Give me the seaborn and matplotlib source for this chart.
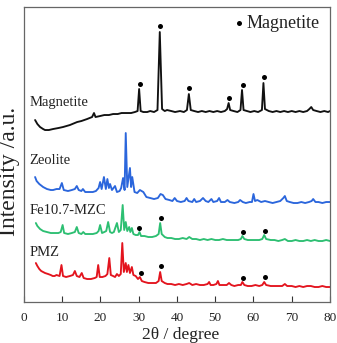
import matplotlib
matplotlib.use('Agg')
import matplotlib.pyplot as plt
import seaborn as sns

# XRD patterns (2theta in degree, intensity in a.u., offset stacked)
mag_x = [2.9, 3.5, 4.2, 5.0, 5.5, 6.5, 7.6, 9.0, 10.2, 12.0, 13.9, 15.0, 16.5, 17.8, 18.3, 18.7,
         19.9, 21.0, 22.2, 23.3, 24.5, 25.5, 26.9, 28.0, 29.0, 29.7, 30.1, 30.5, 31.2, 32.2, 33.0,
         34.0, 34.9, 35.5, 36.1, 36.8, 37.4, 38.5, 39.5, 40.8, 41.8, 42.6, 43.1, 43.6, 44.5, 45.5,
         46.5, 47.5, 48.5, 49.5, 50.5, 51.5, 52.5, 53.1, 53.5, 53.9, 54.8, 55.8, 56.6, 57.0, 57.4,
         58.3, 59.2, 60.2, 61.2, 62.2, 62.6, 63.0, 64.0, 65.0, 66.0, 67.0, 68.0, 69.0, 70.0, 71.0,
         72.0, 73.0, 74.0, 74.6, 75.1, 75.6, 76.5, 77.5, 78.5, 79.5, 80.0]
mag_y = [182, 178, 175, 173, 172, 172, 173, 174, 175, 177, 180, 181, 183, 185, 189, 185,
         186, 187, 187, 188, 188, 189, 189, 189, 190, 191, 213, 191, 190, 190, 191,
         190, 192, 270, 193, 191, 192, 191, 190, 191, 190, 192, 208, 192, 191, 190,
         191, 190, 191, 190, 191, 190, 191, 193, 199, 192, 191, 190, 192, 212, 192,
         191, 190, 191, 190, 192, 219, 193, 191, 190, 191, 190, 191, 190, 191, 190,
         191, 190, 191, 193, 195, 192, 191, 190, 191, 190, 191]

zeo_x = [2.9, 3.3, 4.0, 5.0, 6.0, 7.0, 7.6, 8.5, 9.3, 9.9, 10.4, 11.5, 12.5, 13.3, 13.8, 14.3,
         15.0, 15.4, 16.0, 17.0, 18.0, 18.8, 19.5, 19.9, 20.3, 20.9, 21.4, 21.8, 22.2, 22.5, 23.0,
         23.8, 24.3, 25.0, 25.4, 25.9, 26.3, 26.6, 27.0, 27.7, 28.0, 28.3, 28.9, 29.6, 30.3, 31.2,
         32.0, 33.0, 34.0, 35.0, 35.7, 36.3, 37.0, 38.0, 38.8, 39.4, 40.0, 41.0, 42.0, 42.5, 43.0,
         44.0, 44.5, 45.0, 46.0, 46.8, 47.5, 48.2, 49.0, 49.5, 50.5, 51.0, 51.5, 52.5, 53.2, 53.8,
         55.0, 56.0, 56.5, 57.2, 58.0, 59.0, 59.6, 60.0, 60.4, 61.0, 62.0, 63.0, 64.0, 65.0, 66.0,
         67.0, 67.8, 68.2, 68.7, 69.5, 70.5, 71.5, 72.5, 73.5, 74.5, 75.2, 75.6, 76.2, 77.0, 78.0,
         79.0, 80.0]
zeo_y = [125, 121, 118, 115, 113, 112, 112, 113, 113, 119, 112, 111, 112, 113, 116, 112,
         111, 113, 110, 110, 110, 111, 114, 120, 113, 125, 113, 123, 114, 118, 112,
         116, 110, 111, 114, 124, 112, 169, 115, 134, 115, 125, 110, 109, 112, 110,
         105, 104, 103, 104, 108, 107, 103, 102, 101, 104, 101, 100, 101, 104, 101,
         100, 103, 100, 101, 104, 101, 100, 103, 100, 101, 104, 100, 100, 102, 100,
         99, 100, 102, 100, 99, 100, 100, 108, 101, 102, 100, 101, 100, 99, 100,
         101, 104, 106, 101, 100, 99, 99, 100, 99, 100, 101, 103, 100, 100, 99,
         100, 100]

fe_x = [3.1, 3.5, 4.2, 5.0, 6.0, 7.0, 8.0, 9.0, 9.6, 10.1, 10.5, 11.5, 12.5, 13.3, 13.8, 14.3,
        15.0, 15.5, 16.0, 17.0, 18.0, 19.0, 19.5, 19.9, 20.4, 21.0, 21.5, 22.0, 22.5, 23.0, 23.5,
        24.3, 24.8, 25.3, 25.8, 26.2, 26.6, 27.0, 27.5, 27.8, 28.2, 28.6, 29.2, 29.8, 30.2, 30.6,
        31.5, 32.5, 33.5, 34.5, 35.2, 35.6, 36.0, 36.8, 37.5, 38.5, 39.5, 40.5, 41.5, 42.5, 43.2,
        44.0, 45.0, 46.0, 47.0, 48.0, 49.0, 50.0, 51.0, 52.0, 53.0, 54.0, 55.0, 56.0, 56.7, 57.1,
        57.6, 58.5, 59.5, 60.5, 61.5, 62.3, 62.8, 63.3, 64.5, 65.5, 66.5, 67.5, 68.2, 69.0, 70.0,
        71.0, 72.0, 73.0, 74.0, 75.0, 76.0, 77.0, 78.0, 79.0, 80.0]
fe_y = [79, 76, 73, 71, 70, 69, 69, 69, 70, 77, 69, 68, 69, 70, 75, 69,
        68, 70, 68, 68, 68, 69, 71, 77, 69, 70, 71, 80, 70, 69, 70,
        79, 70, 72, 97, 72, 80, 71, 75, 70, 74, 68, 67, 67, 70, 66,
        66, 65, 65, 66, 68, 79, 68, 65, 64, 64, 63, 63, 64, 63, 65,
        63, 63, 62, 63, 62, 63, 62, 62, 63, 62, 62, 62, 62, 63, 66,
        63, 62, 62, 62, 62, 63, 67, 63, 62, 62, 61, 62, 63, 61, 61,
        62, 61, 61, 62, 61, 62, 61, 61, 62, 61]

pmz_x = [3.1, 3.5, 4.0, 4.5, 5.0, 5.5, 6.3, 7.0, 7.5, 8.0, 8.5, 9.3, 9.8, 10.2, 11.0, 12.0,
         12.8, 13.3, 13.8, 14.5, 15.1, 15.6, 16.5, 17.5, 18.5, 19.0, 19.4, 19.8, 20.5, 21.3, 21.8,
         22.3, 22.7, 23.3, 23.8, 24.3, 24.8, 25.3, 25.7, 26.1, 26.6, 26.9, 27.3, 27.7, 28.2, 28.6,
         29.2, 29.8, 30.3, 30.8, 31.5, 32.5, 33.5, 34.5, 35.2, 35.6, 36.0, 36.8, 37.5, 38.5, 39.5,
         40.5, 41.5, 42.5, 43.2, 44.0, 45.0, 46.0, 47.0, 48.0, 48.4, 48.8, 49.5, 50.3, 50.7, 51.1,
         52.0, 53.0, 53.6, 54.2, 55.0, 56.0, 56.7, 57.1, 57.6, 58.5, 59.5, 60.5, 61.5, 62.3, 62.8,
         63.3, 64.5, 65.5, 66.5, 67.5, 68.2, 68.8, 70.0, 71.0, 72.0, 73.0, 74.0, 75.0, 76.0, 77.0,
         78.0, 79.0, 80.0]
pmz_y = [39, 36, 33, 31, 30, 29, 28, 27, 26, 26, 27, 26, 37, 26, 25, 26,
         27, 31, 26, 25, 29, 24, 23, 23, 24, 25, 37, 25, 25, 26, 28,
         44, 27, 26, 25, 28, 26, 28, 59, 30, 39, 30, 37, 29, 35, 27,
         26, 23, 25, 21, 20, 19, 19, 19, 21, 30, 21, 19, 18, 18, 17,
         18, 17, 18, 19, 17, 18, 17, 17, 18, 20, 17, 17, 18, 21, 17,
         17, 17, 19, 17, 16, 17, 17, 20, 17, 16, 16, 17, 16, 17, 20,
         17, 16, 16, 16, 16, 18, 16, 16, 15, 16, 15, 16, 16, 15, 15,
         16, 15, 15]

# magnetite reflections marked with dots
mag_dot_x = [30.2, 35.6, 43.2, 53.6, 57.2, 62.7]
mag_dot_y = [218, 276, 214, 204, 217, 225]
fe_dot_x = [30.1, 35.7, 57.2, 62.9]
fe_dot_y = [74, 84, 70, 71]
pmz_dot_x = [30.5, 35.7, 57.3, 63.0]
pmz_dot_y = [29, 36, 24, 25]

names = ['Magnetite', 'Zeolite', 'Fe10.7-MZC', 'PMZ']
colors = ['#111111', '#2b66dc', '#2dbf72', '#e3141e']
label_y = [200, 142, 92, 50]

sns.set_style('ticks')
plt.rcParams['font.family'] = ['Liberation Serif', 'DejaVu Serif']

fig = plt.figure(figsize=(3.37, 3.43), dpi=100)
ax = fig.add_axes([0.0712, 0.1195, 0.908, 0.860])

series = [(mag_x, mag_y), (zeo_x, zeo_y), (fe_x, fe_y), (pmz_x, pmz_y)]
for (xs, ys), c in zip(series, colors):
    sns.lineplot(x=xs, y=ys, color=c, lw=1.35, ax=ax, estimator=None)

for xs, ys in [(mag_dot_x, mag_dot_y), (fe_dot_x, fe_dot_y), (pmz_dot_x, pmz_dot_y)]:
    ax.plot(xs, ys, 'o', color='black', ms=3.6, mec='none')

for name, ly in zip(names, label_y):
    ax.text(1.5, ly, name, fontsize=10.5, ha='left', va='center', color='#222222')

# legend-like annotation
ax.plot([56.3], [279], 'o', color='black', ms=3.6, mec='none')
ax.text(58.2, 279, 'Magnetite', fontsize=13, ha='left', va='center', color='#222222')

ax.set_xlim(0, 80)
ax.set_ylim(0, 295)
ax.set_xticks(range(0, 81, 10))
ax.set_yticks([])
ax.tick_params(axis='x', direction='in', length=4, width=0.8, labelsize=9.5, pad=7,
               colors='#333333', labelcolor='#222222')
for s in ax.spines.values():
    s.set_color('#666666')
    s.set_linewidth(0.9)
ax.set_xlabel('')
ax.set_ylabel('')

fig.text(0.535, 0.024, '2θ / degree', fontsize=12.5, ha='center', va='center', color='#222222')
fig.text(0.027, 0.50, 'Intensity /a.u.', fontsize=17, rotation=90, ha='center', va='center',
         color='#222222')

fig.savefig('out.png', dpi=100)
